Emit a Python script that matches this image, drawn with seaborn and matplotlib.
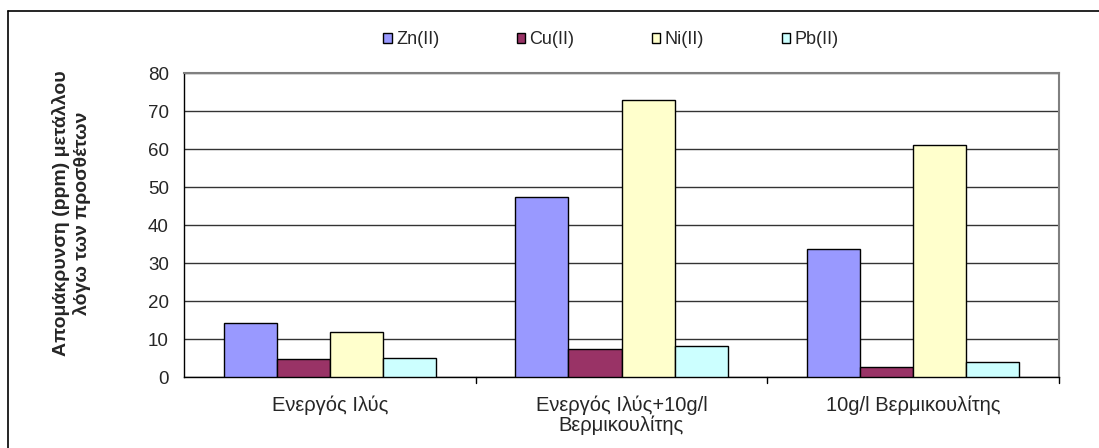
import matplotlib
matplotlib.use("Agg")
import matplotlib.pyplot as plt
from matplotlib.lines import Line2D
import seaborn as sns
import pandas as pd

# Treatment conditions (x categories)
conditions = ["Ενεργός Ιλύς", "Ενεργός Ιλύς+10g/l\nΒερμικουλίτης", "10g/l Βερμικουλίτης"]
metals = ["Zn(II)", "Cu(II)", "Ni(II)", "Pb(II)"]

# Metal removal (ppm) attributed to the additives
zn = [14.2, 47.5, 33.8]
cu = [4.8, 7.3, 2.6]
ni = [11.8, 72.9, 61.1]
pb = [5.0, 8.2, 3.9]

yticks = [0, 10, 20, 30, 40, 50, 60, 70, 80]
colors = ["#9999FF", "#993366", "#FFFFCC", "#CCFFFF"]

rows = []
for metal, vals in zip(metals, [zn, cu, ni, pb]):
    for cond, v in zip(conditions, vals):
        rows.append({"condition": cond, "metal": metal, "value": v})
df = pd.DataFrame(rows)

sns.set_style("white")
plt.rcParams["font.family"] = ["Liberation Sans", "DejaVu Sans"]

fig = plt.figure(figsize=(10.99, 4.48), dpi=100)
ax = fig.add_axes([184 / 1099, 1 - 377 / 448, (1059 - 184) / 1099, (377 - 73) / 448])

sns.barplot(data=df, x="condition", y="value", hue="metal", order=conditions,
            hue_order=metals, palette=colors, width=0.727, gap=0,
            edgecolor="black", linewidth=1.0, saturation=1, ax=ax, zorder=3)

ax.set_ylim(0, 80)
ax.set_xlim(-0.5, 2.5)
ax.set_yticks(yticks)
ax.set_yticklabels([str(t) for t in yticks], fontsize=13.5)
ax.yaxis.grid(True, color="#333333", linewidth=1.0, zorder=0)
ax.set_axisbelow(True)

# category labels between boundary ticks
ax.set_xticks([0, 1, 2])
ax.set_xticklabels(conditions, fontsize=14.5, linespacing=1.05)
ax.tick_params(axis="x", length=0, pad=13)
for b in [0.5, 1.5, 2.5]:
    ax.plot([b, b], [0, -1.6], color="black", linewidth=1, clip_on=False)
ax.tick_params(axis="y", direction="out", length=6, width=1, color="black", pad=5)

for side in ["left", "bottom"]:
    ax.spines[side].set_color("black")
    ax.spines[side].set_linewidth(1)
for side in ["top", "right"]:
    ax.spines[side].set_color("#808080")
    ax.spines[side].set_linewidth(1.5)
    ax.spines[side].set_visible(True)

ax.set_xlabel("")
ax.set_ylabel("Απομάκρυνση (ppm) μετάλλου\nλόγω των προσθέτων", fontsize=14,
              fontweight="bold", linespacing=1.2)
ax.yaxis.set_label_coords((91 - 184) / 875, (377 - 213) / 304)

leg = ax.legend(loc="center", bbox_to_anchor=(611 / 1099, (448 - 40) / 448), bbox_transform=fig.transFigure,
                ncol=4, frameon=False, fontsize=13, handlelength=0.45, handleheight=0.45,
                handletextpad=0.25, columnspacing=4.3)
for h in leg.legend_handles:
    h.set_edgecolor("black")
    h.set_linewidth(1)

# outer chart frame
fig.add_artist(Line2D([8 / 1099, 8 / 1099], [0, 1 - 11 / 448], transform=fig.transFigure,
                      color="black", linewidth=1.2))
fig.add_artist(Line2D([8 / 1099, 1], [1 - 11 / 448, 1 - 11 / 448], transform=fig.transFigure,
                      color="black", linewidth=1.2))

fig.savefig("out.png", dpi=100, facecolor="white")
